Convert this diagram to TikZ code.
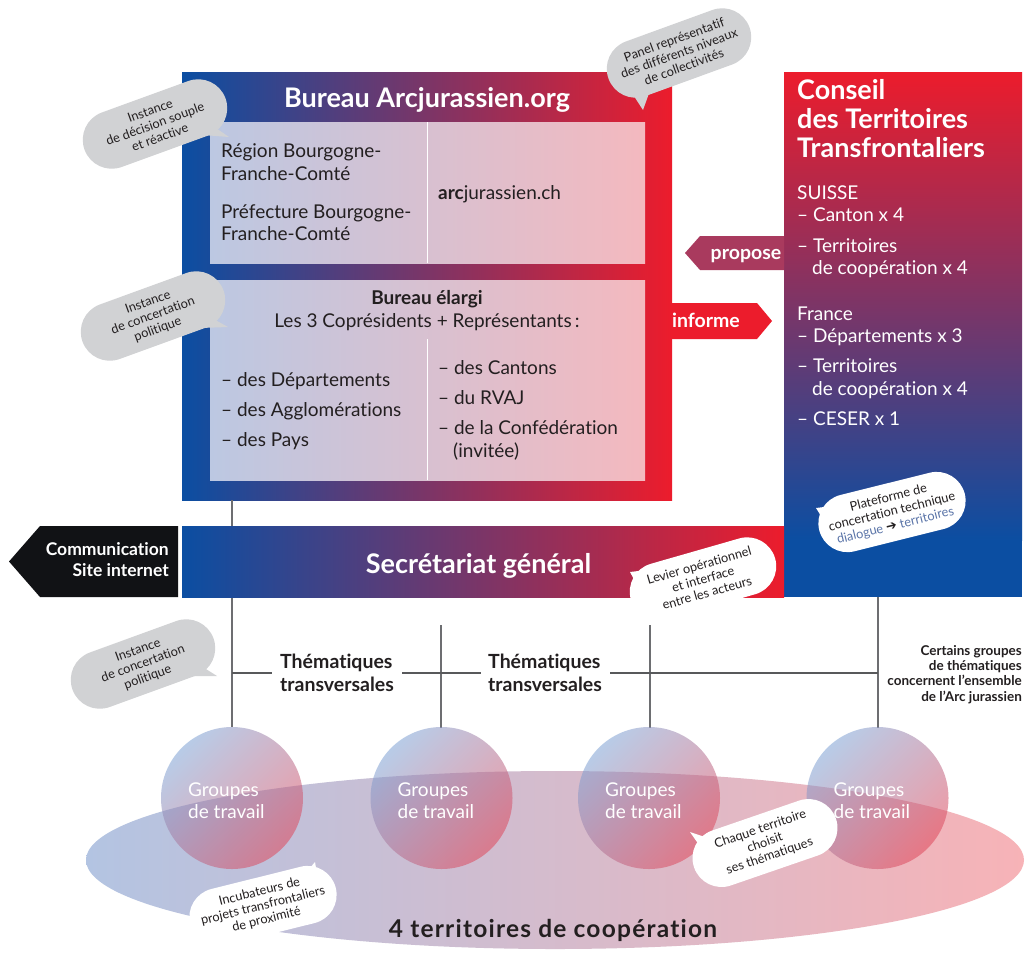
\documentclass[tikz,border=0pt]{standalone}
\usepackage{fontspec}
\setmainfont{Lato}[Ligatures=NoCommon]
\newfontfamily\dv{DejaVu Sans}
\usetikzlibrary{shapes.geometric}
\definecolor{bl}{HTML}{0B4EA2}
\definecolor{rd}{HTML}{EC1C2C}
\definecolor{pu}{HTML}{7D4274}
\definecolor{ll}{HTML}{BCC8E2}
\definecolor{lm}{HTML}{D8C5D6}
\definecolor{lr}{HTML}{F4B9BF}
\definecolor{bg}{HTML}{D1D2D4}
\definecolor{tx}{HTML}{231F20}
\definecolor{ln}{HTML}{58595B}
\definecolor{vl}{HTML}{6D6E71}
\definecolor{cm}{HTML}{A03B60}
\definecolor{pr}{HTML}{A93A5E}
\definecolor{blk}{HTML}{111215}
\definecolor{el}{HTML}{B3C4E2}
\definecolor{em}{HTML}{D6C7DA}
\definecolor{er}{HTML}{F7B3B7}
\definecolor{cb}{HTML}{7FA2D4}
\definecolor{cr}{HTML}{E0475A}
\definecolor{dg}{HTML}{5A74A8}
\newcommand{\fsz}[2]{\fontsize{#1}{#2}\selectfont}
\tikzset{
  rect/.style={rectangle, inner sep=0pt, outer sep=0pt},
  ttl/.style={text=white, font=\bfseries\fsz{27}{32}, inner sep=0pt},
  bt/.style={text=tx, font=\fsz{19}{23}, inner sep=0pt, anchor=base west},
  bbt/.style={text=tx, font=\bfseries\fsz{19}{23}, inner sep=0pt, anchor=base},
  wt/.style={text=white, font=\fsz{19}{23}, inner sep=0pt, anchor=base west},
  thm/.style={text=tx, font=\bfseries\fsz{19.5}{23}, inner sep=0pt, anchor=base west},
  cer/.style={text=tx, font=\bfseries\fsz{13.5}{15}, inner sep=0pt, anchor=base east},
  grp/.style={text=white, font=\fsz{19}{23}, inner sep=0pt, anchor=base west},
  arw/.style={text=white, font=\bfseries\fsz{19.5}{23}, inner sep=0pt, anchor=base},
  bub/.style={rounded corners=29pt, minimum width=150pt, minimum height=58pt,
    inner sep=0pt, align=center, font=\fsz{12.8}{14.3}, text=tx},
  gbub/.style={bub, fill=bg},
  wbub/.style={bub, fill=white},
  vline/.style={draw=vl, line width=1.1pt},
  hline/.style={draw=ln, line width=2pt},
  wdiv/.style={draw=white, line width=1pt},
  circ/.style={circle, minimum size=142pt, inner sep=0pt, top color=cb,
    bottom color=cr, shading angle=45, fill opacity=0.55},
}
\begin{document}
\begin{tikzpicture}[x=1pt,y=-1pt]
\useasboundingbox (0,0) rectangle (1027,954);
\fill[white] (0,0) rectangle (1027,954);

% ---- boxes
\node[rect, minimum width=490pt, minimum height=428pt, left color=bl, middle color=pu, right color=rd] (bureau) at (427,286) {};
\node[rect, minimum width=435pt, minimum height=141pt, left color=ll, middle color=lm, right color=lr] (p1) at (427.5,192.5) {};
\node[rect, minimum width=435pt, minimum height=200pt, left color=ll, middle color=lm, right color=lr] (p2) at (427.5,380) {};
\draw[wdiv] (427,122) -- (427,263);
\draw[wdiv] (427,339) -- (427,480);

\node[rect, minimum width=238pt, minimum height=525pt, fill=bl] (conseil) at (903,334.5) {};
\shade[top color=rd, middle color=cm, bottom color=bl] (784,72) rectangle (1022,540);

% ---- connectors
\coordinate (t2) at (441,625);
\coordinate (t3) at (650,625);
\coordinate (h0) at (232,673);
\coordinate (h1) at (272,673);
\coordinate (h2) at (402,673);
\coordinate (h3) at (481,673);
\coordinate (h4) at (610,673);
\coordinate (h5) at (878,673);
\draw[vline] (232,500) -- (232,727);
\draw[vline] (t2) -- (441,728);
\draw[vline] (t3) -- (650,728);
\draw[vline] (878,597) -- (878,728);
\draw[hline] (h0) -- (h1);
\draw[hline] (h2) -- (h3);
\draw[hline] (h4) -- (h5);

\node[rect, minimum width=602pt, minimum height=71pt, left color=bl, middle color=pu, right color=rd] (secr) at (483,561.5) {};

% ---- arrows
\fill[blk] (178,526) -- (40,526) -- (9,561.5) -- (40,597) -- (178,597) -- cycle;
\fill[pr] (784,236) -- (700,236) -- (685,253) -- (700,270) -- (784,270) -- cycle;
\fill[rd] (672,303) -- (757,303) -- (772,321) -- (757,339) -- (672,339) -- cycle;

% ---- territory ellipse and circles
\node[ellipse, minimum width=938pt, minimum height=178pt, inner sep=0pt, left color=el, middle color=em, right color=er] (terr) at (555,860) {};
\node[circ] (g1) at (232,798) {};
\node[circ] (g2) at (441.5,798) {};
\node[circ] (g3) at (649,798) {};
\node[circ] (g4) at (877.5,798) {};
\foreach \n/\x in {1/232,2/441.5,3/649,4/877.5}{
  \node[grp] (gt\n a) at (\x-44,796) {Groupes};
  \node[grp] (gt\n b) at (\x-44,818.3) {de travail};
}
\node[text=tx, font=\bfseries\fsz{24.5}{28}\addfontfeature{LetterSpace=5}, inner sep=0pt, anchor=base] (terrt) at (553,937) {4 territoires de coopération};

% ---- texts
\node[ttl, anchor=base] (bt) at (427,107) {Bureau Arcjurassien.org};
\node[bt] (r1) at (221,157.3) {Région Bourgogne-};
\node[bt] (r2) at (221,180) {Franche-Comté};
\node[bt] (r3) at (221,218.3) {Préfecture Bourgogne-};
\node[bt] (r4) at (221,240.7) {Franche-Comté};
\node[bt] (arc) at (438,199.3) {\textbf{arc}jurassien.ch};
\node[bbt] (bel) at (427,304) {Bureau élargi};
\node[bt, anchor=base] (cop) at (427,327.3) {Les 3 Coprésidents + Représentants\,:};
\node[bt] (l1) at (221,386.7) {– des Départements};
\node[bt] (l2) at (221,416.7) {– des Agglomérations};
\node[bt] (l3) at (221,446.7) {– des Pays};
\node[bt] (m1) at (438,374) {– des Cantons};
\node[bt] (m2) at (438,404.7) {– du RVAJ};
\node[bt] (m3) at (438,434.7) {– de la Confédération};
\node[bt] (m4) at (453,457.5) {(invitée)};

\node[ttl, anchor=base west] (ct1) at (797,99) {Conseil};
\node[ttl, anchor=base west] (ct2) at (797,128) {des Territoires};
\node[ttl, anchor=base west] (ct3) at (797,157) {Transfrontaliers};
\node[wt] (c1) at (797,199.3) {SUISSE};
\node[wt] (c2) at (797,221.7) {– Canton x 4};
\node[wt] (c3) at (797,252.7) {– Territoires};
\node[wt] (c4) at (812,274.3) {de coopération x 4};
\node[wt] (c5) at (797,320) {France};
\node[wt] (c6) at (797,342.3) {– Départements x 3};
\node[wt] (c7) at (797,372.3) {– Territoires};
\node[wt] (c8) at (812,395) {de coopération x 4};
\node[wt] (c9) at (797,425) {– CESER x 1};

\node[arw] (prop) at (746,259.5) {propose};
\node[arw] (inf) at (706,327.3) {informe};

\node[ttl, anchor=base] (st) at (478.5,573) {Secrétariat général};
\node[text=white, font=\bfseries\fsz{17.5}{21}, inner sep=0pt, anchor=base east] (cm1) at (169,555) {Communication};
\node[text=white, font=\bfseries\fsz{17.5}{21}, inner sep=0pt, anchor=base east] (cm2) at (169,576) {Site internet};

\node[thm] (th1a) at (280,668.3) {Thématiques};
\node[thm] (th1b) at (280,691.7) {transversales};
\node[thm] (th2a) at (488,668.3) {Thématiques};
\node[thm] (th2b) at (488,691.7) {transversales};

\node[cer] (ce1) at (1022,655) {Certains groupes};
\node[cer] (ce2) at (1022,670) {de thématiques};
\node[cer] (ce3) at (1022,685.5) {concernent l’ensemble};
\node[cer] (ce4) at (1022,701) {de l’Arc jurassien};

% ---- bubbles
\fill[bg] (210,124) -- (229,137) -- (203,135) -- cycle;
\node[gbub, rotate=20] (b1) at (155,124) {Instance\\de décision souple\\et réactive};
\fill[bg] (630,90) -- (643,110) -- (652,85) -- cycle;
\node[gbub, rotate=20] (b2) at (679,53) {Panel représentatif\\des différents niveaux\\de collectivités};
\fill[bg] (208,316) -- (228,327) -- (200,328) -- cycle;
\node[gbub, rotate=20] (b3) at (153,316) {Instance\\de concertation\\politique};
\fill[bg] (198,664) -- (217,676) -- (190,676) -- cycle;
\node[gbub, rotate=20] (b4) at (143,664) {Instance\\de concertation\\politique};
\fill[white] (832,506) -- (816,508) -- (826,524) -- cycle;
\node[wbub, rotate=14] (b5) at (892,512) {Plateforme de\\concertation technique\\{\color{dg}dialogue} {\dv\fsz{13}{13}➔} {\color{dg}territoires}};
\fill[white] (655,569) -- (630,572) -- (637,585) -- cycle;
\node[wbub, rotate=16] (b6) at (703,579) {Levier opérationnel\\et interface\\entre les acteurs};
\fill[white] (708,838) -- (690,832) -- (704,852) -- cycle;
\node[wbub, rotate=19] (b7) at (765,843) {Chaque territoire\\choisit\\ses thématiques};
\fill[white] (298,882) -- (315,862) -- (318,880) -- cycle;
\node[wbub, rotate=14] (b8) at (263,906) {Incubateurs de\\projets transfrontaliers\\de proximité};
\end{tikzpicture}
\end{document}
